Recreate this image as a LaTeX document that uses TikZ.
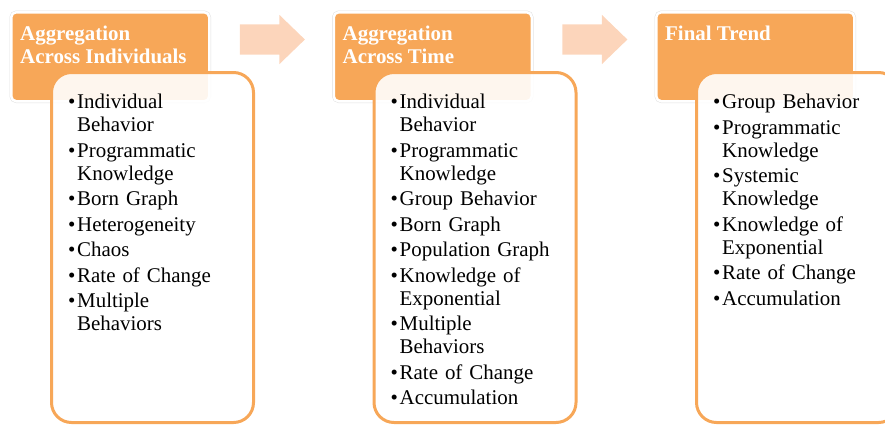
\documentclass[tikz,border=0pt]{standalone}
\usepackage{fontspec}
\setmainfont{Liberation Serif}
\usetikzlibrary{shapes.arrows,positioning}

\definecolor{stageorange}{RGB}{247,167,88}
\definecolor{stagepeach}{RGB}{252,213,187}

% one bullet line of a list, later lines hang under the text
\newcommand{\entry}[1]{\par\hangindent=9bp\hangafter=1\noindent
  \makebox[9bp][l]{\textbullet}{\let\\\newline #1}}

\tikzset{
  header/.style={rectangle, rounded corners=5bp, fill=stageorange,
    preaction={draw=black!12, line width=3.5bp},
    draw=white, line width=2.5bp, minimum width=198bp, minimum height=89bp,
    inner sep=0pt, anchor=north west},
  panel/.style={rectangle, rounded corners=20bp, fill=white, fill opacity=0.9,
    draw=stageorange, draw opacity=1, line width=3bp,
    minimum width=202bp, minimum height=350bp, inner sep=0pt, anchor=north west},
  headtext/.style={anchor=north west, inner sep=0pt, align=left, text=white,
    font=\fontsize{21}{23}\selectfont\bfseries},
  listtext/.style={anchor=north west, inner sep=0pt, text width=180bp,
    font=\fontsize{21}{23.3}\selectfont,
    execute at begin node={\setlength{\parskip}{2.2bp}\raggedright}},
  flow/.style={single arrow, fill=stagepeach, draw=none, inner xsep=0pt,
    inner ysep=15bp, minimum height=65bp, single arrow head extend=9.5bp,
    single arrow tip angle=88, shape border rotate=0}
}

\begin{document}
\begin{tikzpicture}[x=1bp, y=-1bp]
\clip (0,0) rectangle (885,424);

% first stage
\node[header] (hdA) at (10,11) {};
\node[headtext] (hdAtxt) at (20,25.5) {Aggregation\\Across Individuals};
\node[panel] (bdA) at (50,71) {};
\node[listtext] (bdAtxt) at (68,83) {%
\entry{Individual\\Behavior}
\entry{Programmatic\\Knowledge}
\entry{Born Graph}
\entry{Heterogeneity}
\entry{Chaos}
\entry{Rate of Change}
\entry{Multiple\\Behaviors}\par};

\node[flow] (arrA) at (264.5,39.5) {};

% second stage
\node[header] (hdB) at (332.5,11) {};
\node[headtext] (hdBtxt) at (342.5,25.5) {Aggregation\\Across Time};
\node[panel] (bdB) at (372.5,71) {};
\node[listtext] (bdBtxt) at (390.5,83) {%
\entry{Individual\\Behavior}
\entry{Programmatic\\Knowledge}
\entry{Group Behavior}
\entry{Born Graph}
\entry{Population Graph}
\entry{Knowledge of\\Exponential}
\entry{Multiple\\Behaviors}
\entry{Rate of Change}
\entry{Accumulation}\par};

\node[flow] (arrB) at (587,39.5) {};

% last stage
\node[header] (hdC) at (655,11) {};
\node[headtext] (hdCtxt) at (665,25.5) {Final Trend};
\node[panel] (bdC) at (695,71) {};
\node[listtext] (bdCtxt) at (713,83) {%
\entry{Group Behavior}
\entry{Programmatic\\Knowledge}
\entry{Systemic\\Knowledge}
\entry{Knowledge of\\Exponential}
\entry{Rate of Change}
\entry{Accumulation}\par};

\end{tikzpicture}
\end{document}
